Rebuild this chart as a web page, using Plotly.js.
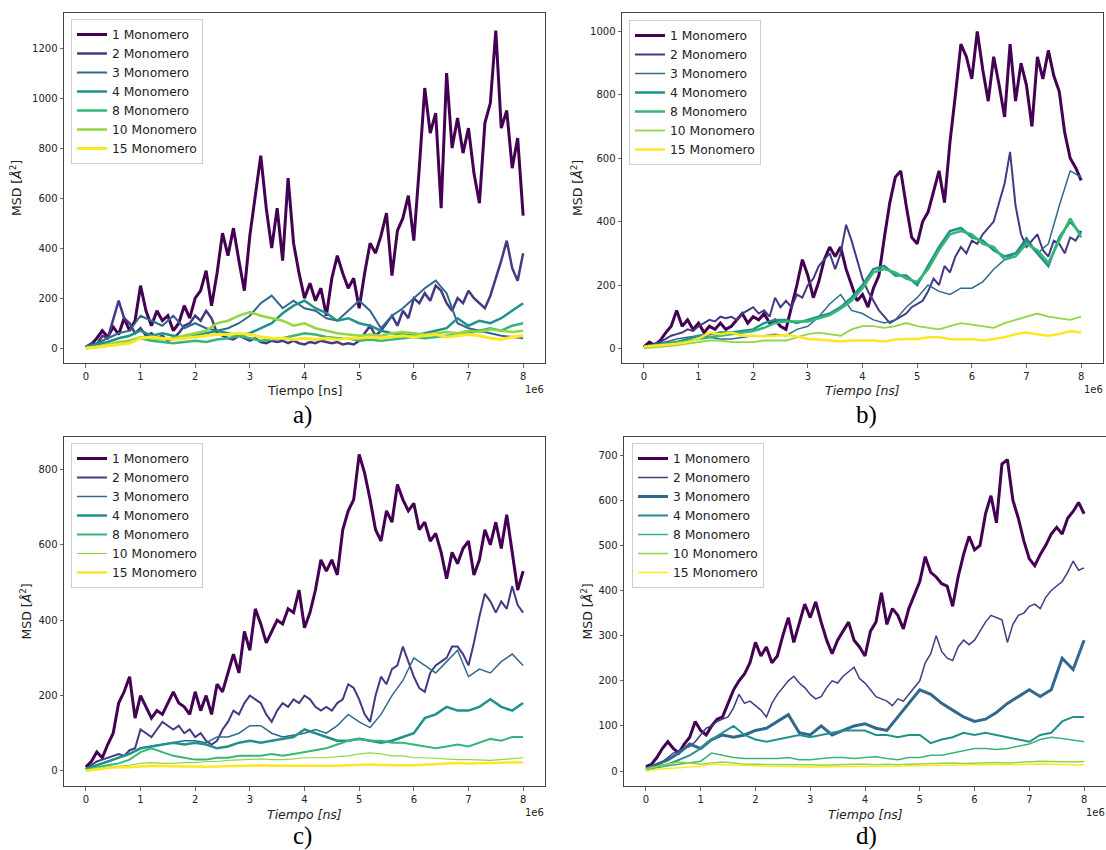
<!DOCTYPE html>
<html><head><meta charset="utf-8">
<script src="https://cdn.plot.ly/plotly-3.0.1.min.js"></script>
<style>html,body{margin:0;padding:0;background:#fff}#chart{width:1106px;height:850px}</style>
</head><body><div id="chart"></div>
<script>
// ---------- DATA (tiempo en unidades de 1e6 ns) ----------
const tiempoFino = [0,0.1,0.2,0.3,0.4,0.5,0.6,0.7,0.8,0.9,1,1.1,1.2,1.3,1.4,1.5,1.6,1.7,1.8,1.9,2,2.1,2.2,2.3,2.4,2.5,2.6,2.7,2.8,2.9,3,3.1,3.2,3.3,3.4,3.5,3.6,3.7,3.8,3.9,4,4.1,4.2,4.3,4.4,4.5,4.6,4.7,4.8,4.9,5,5.1,5.2,5.3,5.4,5.5,5.6,5.7,5.8,5.9,6,6.1,6.2,6.3,6.4,6.5,6.6,6.7,6.8,6.9,7,7.1,7.2,7.3,7.4,7.5,7.6,7.7,7.8,7.9,8];
const tiempoGrueso = [0,0.2,0.4,0.6,0.8,1,1.2,1.4,1.6,1.8,2,2.2,2.4,2.6,2.8,3,3.2,3.4,3.6,3.8,4,4.2,4.4,4.6,4.8,5,5.2,5.4,5.6,5.8,6,6.2,6.4,6.6,6.8,7,7.2,7.4,7.6,7.8,8];
const monomeros = ['1 Monomero','2 Monomero','3 Monomero','4 Monomero','8 Monomero','10 Monomero','15 Monomero'];
const xTickVals = [0,1,2,3,4,5,6,7,8];
const xTickText = ['0','1','2','3','4','5','6','7','8'];
const yTicksA = [0,200,400,600,800,1000,1200];
const yTicksB = [0,200,400,600,800,1000];
const yTicksC = [0,200,400,600,800];
const yTicksD = [0,100,200,300,400,500,600,700];

// Panel a
const a1 = [5,15,40,70,45,85,55,120,70,110, 250,150,90,150,110,130,70,100,170,120, 200,230,310,170,300,460,370,480,350,230, 450,620,770,560,400,560,350,680,420,300, 200,260,190,240,130,280,370,300,240,280, 160,300,420,380,450,540,290,470,520,610, 430,720,1040,860,940,560,1100,800,920,780, 880,700,580,900,980,1270,880,950,720,840, 530];
const a2 = [5,20,15,50,40,110,190,120,100,60, 80,50,60,40,50,30,40,60,90,100, 130,110,150,120,60,50,40,35,50,40, 30,40,25,20,30,25,30,20,30,20, 15,25,20,30,25,20,25,15,20,15, 30,60,90,50,70,100,130,90,150,120, 200,180,220,190,250,230,180,150,200,180, 230,200,180,160,210,280,350,430,320,270, 380];
const a3 = [5,20,40,60,70,130,110,90,130,80, 100,80,70,80,100,130,180,210,160,190, 160,150,120,110,150,190,150,80,130,160, 200,240,270,220,100,80,70,60,50,45, 40];
const a4 = [5,15,25,40,50,70,50,60,50,40, 50,60,70,60,50,60,80,100,140,170, 190,160,140,110,120,100,90,70,60,55, 50,60,70,80,120,90,110,100,120,150, 180];
const a8 = [0,5,10,20,30,40,30,25,20,25, 30,25,35,40,50,40,30,35,40,50, 60,55,45,40,40,30,35,30,35,40, 45,40,45,50,55,60,70,80,70,90, 100];
const a10 = [0,5,15,25,30,45,40,35,40,50, 60,70,100,110,130,145,130,120,110,90, 100,80,70,60,55,50,55,50,60,65, 60,55,60,65,60,70,65,75,70,65, 70];
const a15 = [0,5,10,15,20,40,45,40,35,40, 45,50,55,55,60,55,45,40,40,35, 40,35,40,35,40,40,45,40,45,50, 45,50,55,45,50,55,50,40,35,45, 50];

// Panel b
const b1 = [5,20,10,25,50,70,120,70,90,60, 80,50,70,60,80,60,70,90,110,80, 100,90,110,80,90,70,60,130,200,280, 230,160,210,280,320,290,320,250,200,150, 170,130,190,230,350,460,540,560,450,350, 330,400,430,500,560,460,650,800,960,920, 850,1000,880,780,920,830,730,960,780,900, 830,700,920,850,940,860,810,680,600,570, 530];
const b2 = [5,10,15,20,30,40,45,50,60,55, 70,80,90,85,100,95,100,90,110,120, 130,110,120,100,160,130,150,130,170,160, 200,220,260,280,300,250,300,390,340,280, 220,180,150,120,100,80,90,100,110,130, 140,150,180,220,200,260,240,290,320,300, 340,330,360,380,400,460,520,620,450,360, 320,340,360,310,290,340,330,300,350,340, 370];
const b3 = [5,10,20,30,35,40,35,30,30,35, 40,40,45,40,60,70,100,140,170,120, 110,90,80,90,130,160,200,180,170,190, 190,210,250,280,300,350,300,330,450,560, 540];
const b4 = [5,10,15,20,30,40,45,50,50,55, 60,80,90,90,80,90,100,110,130,160, 200,250,260,230,230,200,260,320,370,380, 350,340,310,290,300,340,300,260,350,400, 360];
const b8 = [5,8,12,18,25,30,35,40,45,50, 55,65,80,85,85,85,95,105,125,150, 190,240,250,240,220,210,250,310,360,370, 360,330,320,280,290,330,310,270,340,410, 350];
const b10 = [0,3,8,10,15,20,25,25,20,20, 20,25,25,25,35,45,50,45,40,60, 70,70,65,70,80,70,65,60,70,80, 75,70,65,80,90,100,110,100,95,90, 100];
const b15 = [5,8,10,15,20,30,50,45,50,40, 40,38,40,42,38,30,28,25,22,25, 25,25,22,28,30,30,35,35,30,28, 30,25,30,35,45,50,45,40,45,55, 50];

// Panel c
const c1 = [10,25,50,35,70,100,180,210,250,140, 200,170,140,160,150,180,210,180,170,150, 210,160,200,150,230,210,260,310,260,370, 320,430,390,340,370,400,390,430,420,480, 380,420,480,560,530,560,520,640,690,720, 840,790,720,640,610,690,660,760,720,690, 710,640,660,610,630,580,510,580,550,590, 610,520,560,640,600,660,590,680,580,480, 530];
const c2 = [5,15,25,30,35,40,45,40,55,60, 110,100,90,110,130,120,110,120,100,110, 90,100,80,70,80,110,130,160,150,180, 200,190,180,150,130,160,180,170,190,180, 200,190,170,160,170,160,180,190,230,220, 190,150,130,200,250,230,270,280,330,290, 250,220,210,260,280,290,300,330,330,310, 280,340,410,470,450,420,450,430,490,440, 420];
const c3 = [5,15,25,35,45,60,65,70,75,80, 80,75,90,90,100,120,120,100,90,95, 100,110,100,120,150,130,115,150,200,240, 300,280,260,290,320,250,270,260,290,310, 280];
const c4 = [5,15,25,35,45,60,65,70,75,70, 75,70,60,65,75,80,75,80,85,90, 110,100,90,80,80,85,80,75,80,90, 100,140,150,170,160,160,170,190,170,160, 180];
const c8 = [3,10,15,20,30,50,60,50,40,35, 30,30,35,35,40,40,40,45,40,45, 50,55,60,70,80,85,80,80,75,75, 70,65,60,65,70,65,75,85,80,90, 90];
const c10 = [2,8,10,12,15,20,22,20,20,22, 22,25,25,28,30,30,32,30,30,32, 35,35,35,38,40,45,48,45,40,40, 35,35,33,32,30,30,28,28,30,32, 35];
const c15 = [0,5,8,10,10,12,14,13,12,12, 12,11,12,13,14,15,15,14,14,13, 12,13,13,14,15,16,17,16,15,15, 15,16,18,20,21,20,20,21,22,22, 23];

// Panel d
const d1 = [10,15,30,50,65,50,40,60,75,110, 90,80,100,115,120,150,180,200,215,240, 285,255,275,240,255,300,340,285,330,370, 340,375,330,290,260,290,310,330,290,275, 255,310,330,395,325,360,345,315,360,390, 420,475,440,430,415,410,365,430,480,520, 490,500,570,610,550,680,690,600,560,510, 470,455,480,500,525,540,525,560,575,595, 570];
const d2 = [5,10,15,20,30,40,45,50,55,65, 80,95,100,110,115,120,140,170,150,155, 145,135,120,150,170,185,200,210,195,185, 170,160,165,185,200,195,210,220,230,205, 195,180,165,160,155,145,160,155,170,185, 200,240,260,300,265,250,245,275,290,280, 290,310,330,345,340,335,285,325,345,350, 365,370,360,385,400,410,420,440,465,445, 450];
const d3 = [5,15,25,40,60,50,70,80,75,80, 90,95,110,125,85,80,100,80,90,100, 105,95,90,120,150,180,170,150,135,120, 110,115,130,150,165,180,165,180,250,225, 290];
const d4 = [5,10,15,25,35,50,70,85,100,80, 70,65,70,75,80,75,80,85,90,90, 90,80,80,75,80,80,62,70,75,85, 80,85,80,75,70,65,80,85,110,120, 120];
const d8 = [3,8,12,15,18,22,40,35,30,28, 28,27,28,30,25,25,28,30,30,28, 30,32,28,25,30,30,35,35,40,45, 50,50,48,50,55,60,70,75,72,68, 65];
const d10 = [5,10,15,20,18,15,18,20,18,15, 15,15,14,15,15,14,13,14,15,15, 15,14,15,14,15,16,17,18,18,17, 18,18,19,18,19,20,22,21,20,20, 21];
const d15 = [0,4,6,8,9,10,16,14,13,12, 12,11,11,10,10,9,9,10,10,10, 10,10,11,11,12,12,13,13,13,14, 14,14,15,15,15,15,16,15,15,14, 14];

// ---------- STYLE / LAYOUT ----------
const colores = ['#440154','#443983','#31688e','#21918c','#35b779','#90d743','#fde725'];
const W = 1106, H = 850;
const fx = v => v / W, fy = v => 1 - v / H;

const paneles = [
  {series:[a1,a2,a3,a4,a8,a10,a15], widths:[3,2.5,2,2.5,2.5,2.5,3], box:{l:64,r:545,t:13,b:363}, yr:[-59,1340], yt:yTicksA, leg:{x:71,y:19}, ytitleX:16, italic:false, cap:'a)', capX:302, capY:415, e6:{x:534,y:390}},
  {series:[b1,b2,b3,b4,b8,b10,b15], widths:[3,2,1.5,2.5,2.5,1.8,2.5], box:{l:622,r:1103,t:13,b:363}, yr:[-46,1058], yt:yTicksB, leg:{x:629,y:20}, ytitleX:577, italic:true, cap:'b)', capX:866, capY:415, e6:{x:1093,y:390}},
  {series:[c1,c2,c3,c4,c8,c10,c15], widths:[3,2,1.5,2.5,2,1.2,2.5], box:{l:64,r:545,t:437,b:786}, yr:[-40,886], yt:yTicksC, leg:{x:71,y:443}, ytitleX:25, italic:true, cap:'c)', capX:302, capY:836, e6:{x:534,y:812}},
  {series:[d1,d2,d3,d4,d8,d10,d15], widths:[3,1.5,3,2,1.5,1.5,1.5], box:{l:624,r:1106,t:437,b:786}, yr:[-33,740], yt:yTicksD, leg:{x:632,y:443}, ytitleX:586, italic:true, cap:'d)', capX:866, capY:836, e6:{x:1095,y:812}}
];

const traces = [];
const layout = {
  width: W, height: H, margin:{l:0,r:0,t:0,b:0},
  paper_bgcolor:'#ffffff', plot_bgcolor:'#ffffff',
  font:{family:'DejaVu Sans', color:'#222'},
  annotations: []
};
const axBase = {showline:true, mirror:true, linecolor:'#444', linewidth:1, ticks:'outside', ticklen:3.5, tickwidth:0.8, tickcolor:'#444', showgrid:false, zeroline:false, tickfont:{family:'DejaVu Sans', size:10, color:'#222'}, fixedrange:true};

paneles.forEach((p, k) => {
  const n = k === 0 ? '' : String(k + 1);
  const legName = 'legend' + n;
  p.series.forEach((ys, i) => {
    traces.push({
      type:'scatter', mode:'lines',
      x: ys.length === tiempoFino.length ? tiempoFino : tiempoGrueso,
      y: ys, name: monomeros[i],
      line:{color:colores[i], width:p.widths[i]},
      xaxis:'x' + n, yaxis:'y' + n, legend: legName, hoverinfo:'skip'
    });
  });
  layout['xaxis' + n] = Object.assign({}, axBase, {
    domain:[fx(p.box.l), fx(p.box.r)], anchor:'y' + n,
    range:[-0.4, 8.4], tickmode:'array', tickvals:xTickVals, ticktext:xTickText
  });
  layout['yaxis' + n] = Object.assign({}, axBase, {
    domain:[fy(p.box.b), fy(p.box.t)], anchor:'x' + n,
    range:p.yr, tickmode:'array', tickvals:p.yt
  });
  layout[legName] = {
    x: fx(p.leg.x), y: fy(p.leg.y), xanchor:'left', yanchor:'top',
    bgcolor:'rgba(255,255,255,0.85)', bordercolor:'#cccccc', borderwidth:1,
    font:{family:'DejaVu Sans', size:12.3, color:'#222'}, tracegroupgap:0
  };
  const cx = (p.box.l + p.box.r) / 2, cy = (p.box.t + p.box.b) / 2;
  const tFont = {family:'DejaVu Sans', size:12.5, color:'#222'};
  layout.annotations.push(
    {xref:'paper', yref:'paper', x:fx(cx), y:fy(p.box.b + 28), text: p.italic ? '<i>Tiempo [ns]</i>' : 'Tiempo [ns]', showarrow:false, font:tFont, xanchor:'center', yanchor:'middle'},
    {xref:'paper', yref:'paper', x:fx(p.ytitleX), y:fy(cy), text:'MSD [<i>Å</i><sup>2</sup>]', showarrow:false, font:tFont, textangle:-90, xanchor:'center', yanchor:'middle'},
    {xref:'paper', yref:'paper', x:fx(p.e6.x), y:fy(p.e6.y), text:'1e6', showarrow:false, font:{family:'DejaVu Sans', size:10, color:'#222'}, xanchor:'center', yanchor:'middle'},
    {xref:'paper', yref:'paper', x:fx(p.capX), y:fy(p.capY), text:p.cap, showarrow:false, font:{family:'Liberation Serif', size:25, color:'#000'}, xanchor:'center', yanchor:'middle'}
  );
});

Plotly.newPlot('chart', traces, layout, {staticPlot:true, displayModeBar:false});
</script></body></html>
